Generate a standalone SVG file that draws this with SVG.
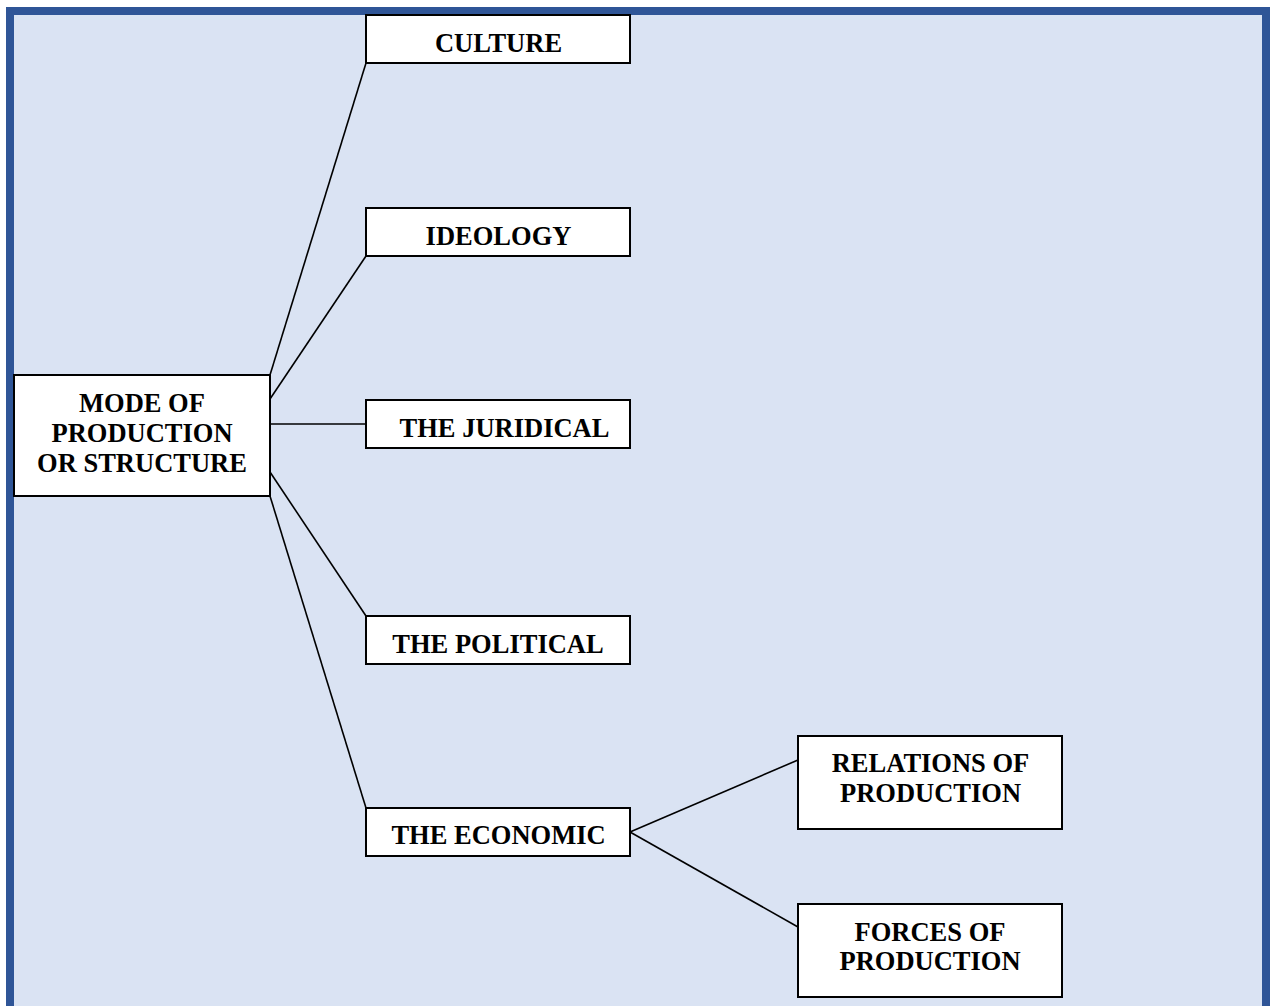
<svg xmlns="http://www.w3.org/2000/svg" width="1275" height="1006" viewBox="0 0 1275 1006">
<style>
.box{fill:#ffffff;stroke:#000000;stroke-width:2}
.t{font-family:"Liberation Serif","Times New Roman",serif;font-weight:bold;font-size:26.5px;fill:#000000;text-anchor:middle}
.c{stroke:#000000;stroke-width:1.6;fill:none}
</style>
<rect x="0" y="0" width="1275" height="1006" fill="#ffffff"/>
<rect x="10" y="11" width="1256" height="1010" fill="#DAE3F3" stroke="#2F5597" stroke-width="8"/>
<g id="connectors">
<line class="c" x1="270" y1="375" x2="366" y2="63"/>
<line class="c" x1="270" y1="399" x2="366" y2="256"/>
<line class="c" x1="270" y1="424" x2="366" y2="424"/>
<line class="c" x1="270" y1="472" x2="366" y2="616"/>
<line class="c" x1="270" y1="496" x2="366" y2="808"/>
<line class="c" x1="630" y1="832" x2="798" y2="760"/>
<line class="c" x1="630" y1="832" x2="798" y2="927"/>
</g>
<g id="mode">
<rect class="box" x="14" y="375" width="256" height="121"/>
<text class="t" x="142" y="412">MODE OF</text>
<text class="t" x="142" y="442">PRODUCTION</text>
<text class="t" x="142" y="472">OR STRUCTURE</text>
</g>
<g id="culture">
<rect class="box" x="366" y="15" width="264" height="48"/>
<text class="t" x="498.5" y="52">CULTURE</text>
</g>
<g id="ideology">
<rect class="box" x="366" y="208" width="264" height="48"/>
<text class="t" x="498.5" y="245">IDEOLOGY</text>
</g>
<g id="juridical">
<rect class="box" x="366" y="400" width="264" height="48"/>
<text class="t" x="504.5" y="437">THE JURIDICAL</text>
</g>
<g id="political">
<rect class="box" x="366" y="616" width="264" height="48"/>
<text class="t" x="498" y="653">THE POLITICAL</text>
</g>
<g id="economic">
<rect class="box" x="366" y="808" width="264" height="48"/>
<text class="t" x="498.5" y="844">THE ECONOMIC</text>
</g>
<g id="relations">
<rect class="box" x="798" y="736" width="264" height="93"/>
<text class="t" x="930.5" y="772">RELATIONS OF</text>
<text class="t" x="930.5" y="802">PRODUCTION</text>
</g>
<g id="forces">
<rect class="box" x="798" y="904" width="264" height="93"/>
<text class="t" x="930" y="941">FORCES OF</text>
<text class="t" x="930" y="970">PRODUCTION</text>
</g>
</svg>
